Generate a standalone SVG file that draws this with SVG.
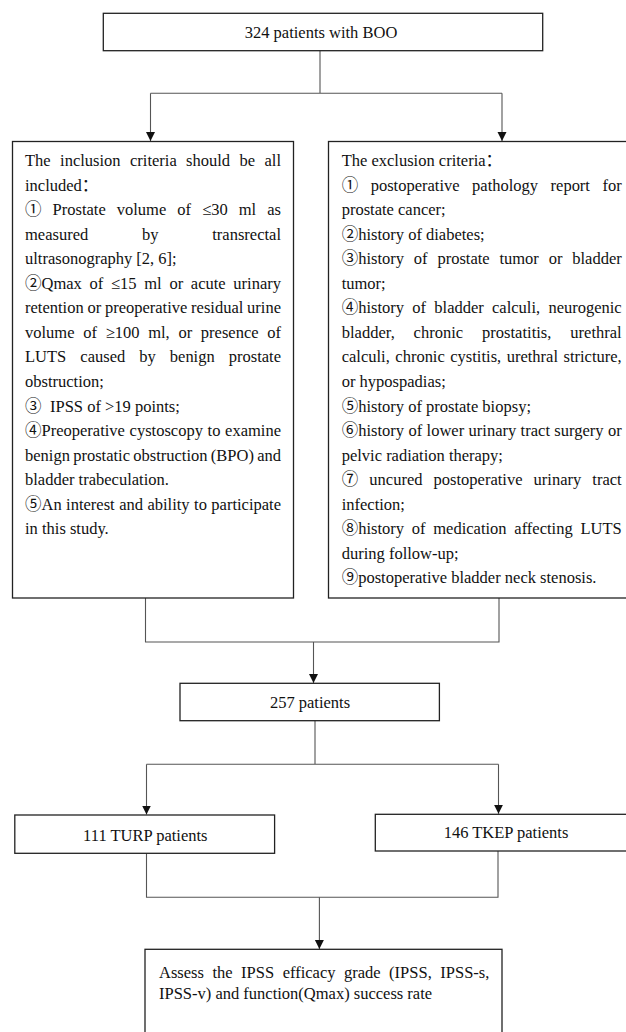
<svg xmlns="http://www.w3.org/2000/svg" width="626" height="1032" viewBox="0 0 626 1032">
<style>
.box{fill:#fff;stroke:#222;stroke-width:1.3}
.con{fill:none;stroke:#555;stroke-width:1.1}
text{font-family:"Liberation Serif","Noto Sans CJK SC",serif;font-size:16.5px;fill:#111}
.c{text-anchor:middle}
</style>
<defs>
<marker id="ah" markerWidth="10" markerHeight="10" refX="9" refY="5" orient="auto" markerUnits="userSpaceOnUse">
<path d="M0,0.5 L9,5 L0,9.5 Z" fill="#111"/>
</marker>
</defs>
<rect width="626" height="1032" fill="#fff"/>
<g id="connectors">
<path class="con" d="M320,50.7 V93.3 M150.5,93.3 H502"/>
<path class="con" d="M150.5,93.3 V141" marker-end="url(#ah)"/>
<path class="con" d="M502,93.3 V141" marker-end="url(#ah)"/>
<path class="con" d="M145.5,598 V642 H499 V598"/>
<path class="con" d="M313.5,642 V683" marker-end="url(#ah)"/>
<path class="con" d="M315,720.7 V764.3 M146.5,764.3 H498.5"/>
<path class="con" d="M146.5,764.3 V814.5" marker-end="url(#ah)"/>
<path class="con" d="M498.5,764.3 V813.8" marker-end="url(#ah)"/>
<path class="con" d="M146.5,853.3 V897.3 H498 V851"/>
<path class="con" d="M319.4,897.3 V949" marker-end="url(#ah)"/>
</g>
<g id="n-start">
<rect class="box" x="103.3" y="13.3" width="439.4" height="37.4"/>
<text class="c" x="321" y="38.3">324 patients with BOO</text>
</g>
<g id="n-inclusion">
<rect class="box" x="12.5" y="141.5" width="281" height="456.5"/>
<text x="25" y="166" word-spacing="5.28" textLength="256" lengthAdjust="spacing">The inclusion criteria should be all</text>
<text x="25" y="190.55">included：</text>
<text x="25" y="215.1" word-spacing="6.94" textLength="256" lengthAdjust="spacing">① Prostate volume of ≤30 ml as</text>
<text x="25" y="239.65" word-spacing="49.6" textLength="256" lengthAdjust="spacing">measured by transrectal</text>
<text x="25" y="264.2">ultrasonography [2, 6];</text>
<text x="25" y="288.75" word-spacing="3.58" textLength="256" lengthAdjust="spacing">②Qmax of ≤15 ml or acute urinary</text>
<text x="25" y="313.3" word-spacing="-0.38" textLength="256" lengthAdjust="spacing">retention or preoperative residual urine</text>
<text x="25" y="337.85" word-spacing="4.57" textLength="256" lengthAdjust="spacing">volume of ≥100 ml, or presence of</text>
<text x="25" y="362.4" word-spacing="9.92" textLength="256" lengthAdjust="spacing">LUTS caused by benign prostate</text>
<text x="25" y="386.95">obstruction;</text>
<text x="25" y="411.5">③<tspan x="50">IPSS of &gt;19 points;</tspan></text>
<text x="25" y="436.05" word-spacing="0.55" textLength="256" lengthAdjust="spacing">④Preoperative cystoscopy to examine</text>
<text x="25" y="460.6" word-spacing="-0.85" textLength="256" lengthAdjust="spacing">benign prostatic obstruction (BPO) and</text>
<text x="25" y="485.15">bladder trabeculation.</text>
<text x="25" y="509.7" word-spacing="0.33" textLength="256" lengthAdjust="spacing">⑤An interest and ability to participate</text>
<text x="25" y="534.25">in this study.</text>
</g>
<g id="n-exclusion">
<rect class="box" x="328.5" y="141.5" width="310" height="456.5"/>
<text x="341.7" y="166">The exclusion criteria：</text>
<text x="341.7" y="190.55" word-spacing="8.37" textLength="280" lengthAdjust="spacing">① postoperative pathology report for</text>
<text x="341.7" y="215.1">prostate cancer;</text>
<text x="341.7" y="239.65">②history of diabetes;</text>
<text x="341.7" y="264.2" word-spacing="5.68" textLength="280" lengthAdjust="spacing">③history of prostate tumor or bladder</text>
<text x="341.7" y="288.75">tumor;</text>
<text x="341.7" y="313.3" word-spacing="4.13" textLength="280" lengthAdjust="spacing">④history of bladder calculi, neurogenic</text>
<text x="341.7" y="337.85" word-spacing="14.7" textLength="280" lengthAdjust="spacing">bladder, chronic prostatitis, urethral</text>
<text x="341.7" y="362.4" word-spacing="1.38" textLength="280" lengthAdjust="spacing">calculi, chronic cystitis, urethral stricture,</text>
<text x="341.7" y="386.95">or hypospadias;</text>
<text x="341.7" y="411.5">⑤history of prostate biopsy;</text>
<text x="341.7" y="436.05" word-spacing="0.23" textLength="280" lengthAdjust="spacing">⑥history of lower urinary tract surgery or</text>
<text x="341.7" y="460.6">pelvic radiation therapy;</text>
<text x="341.7" y="485.15" word-spacing="7.0" textLength="280" lengthAdjust="spacing">⑦ uncured postoperative urinary tract</text>
<text x="341.7" y="509.7">infection;</text>
<text x="341.7" y="534.25" word-spacing="3.55" textLength="280" lengthAdjust="spacing">⑧history of medication affecting LUTS</text>
<text x="341.7" y="558.8">during follow-up;</text>
<text x="341.7" y="583.35">⑨postoperative bladder neck stenosis.</text>
</g>
<g id="n-257">
<rect class="box" x="180" y="683.3" width="259.4" height="37.4"/>
<text class="c" x="310" y="708.3">257 patients</text>
</g>
<g id="n-turp">
<rect class="box" x="14.8" y="815" width="259.8" height="38.3"/>
<text class="c" x="145.3" y="841">111 TURP patients</text>
</g>
<g id="n-tkep">
<rect class="box" x="375.3" y="814.3" width="270" height="36.7"/>
<text class="c" x="506" y="838.3">146 TKEP patients</text>
</g>
<g id="n-assess">
<rect class="box" x="145" y="949.3" width="357" height="110"/>
<text x="159" y="977.5" word-spacing="4.35" textLength="330.4" lengthAdjust="spacing">Assess the IPSS efficacy grade (IPSS, IPSS-s,</text>
<text x="159" y="999">IPSS-v) and function(Qmax) success rate</text>
</g>
</svg>
